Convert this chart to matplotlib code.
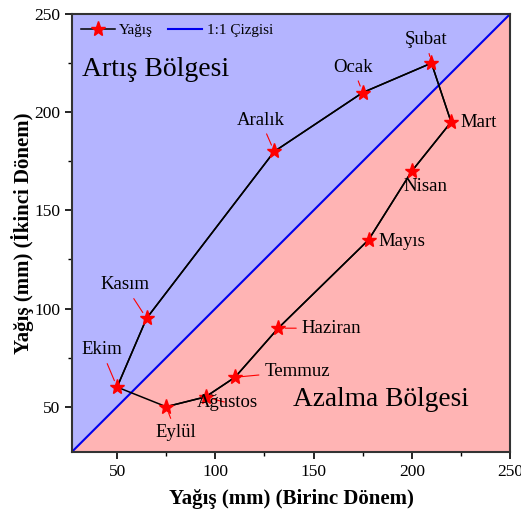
import matplotlib
matplotlib.use('Agg')
import matplotlib.pyplot as plt
import numpy as np

# Monthly precipitation (mm): first period vs second period
months = ['Ekim', 'Kasım', 'Aralık', 'Ocak', 'Şubat', 'Mart',
          'Nisan', 'Mayıs', 'Haziran', 'Temmuz', 'Ağustos', 'Eylül']
first_period = [50, 65, 130, 175, 210, 220, 200, 178, 132, 110, 95, 75]
second_period = [60, 95, 180, 210, 225, 195, 170, 135, 90, 65, 55, 50]

# label positions (data coords) and alignment
label_pos = [(42, 79), (54, 112), (123, 196), (170, 223), (207, 237), (225, 195),
             (207, 162), (183, 134), (144, 90), (125, 68), (106, 52), (80, 37)]
label_ha = ['center', 'center', 'center', 'center', 'center', 'left',
            'center', 'left', 'left', 'left', 'center', 'center']

lim = (27, 250)

plt.rcParams['font.family'] = ['Liberation Serif', 'DejaVu Serif']
fig = plt.figure(figsize=(5.21, 5.20), dpi=100)
ax = fig.add_axes([0.138, 0.131, 0.841, 0.842])

# regions above / below the 1:1 line
ax.fill([lim[0], lim[0], lim[1]], [lim[0], lim[1], lim[1]], color='#b4b4ff', zorder=0)
ax.fill([lim[0], lim[1], lim[1]], [lim[0], lim[0], lim[1]], color='#ffb4b4', zorder=0)

ax.plot(lim, lim, color='#0000ee', lw=1.5, label='1:1 Çizgisi', zorder=2)

xs = first_period + first_period[:1]
ys = second_period + second_period[:1]
ax.plot(xs, ys, color='black', lw=1.1, zorder=3)
line, = ax.plot(first_period, second_period, color='black', lw=1.1, marker='*',
                markersize=11, markerfacecolor='red', markeredgecolor='red',
                zorder=4, label='Yağış')

for name, x, y, (tx, ty), ha in zip(months, first_period, second_period, label_pos, label_ha):
    ax.annotate(name, xy=(x, y), xytext=(tx, ty), ha=ha, va='center', fontsize=13.5,
                arrowprops=dict(arrowstyle='-', color='red', lw=0.8,
                                shrinkA=2, shrinkB=5), zorder=5)

ax.text(32, 222, 'Artış Bölgesi', fontsize=20, va='center')
ax.text(229, 53.5, 'Azalma Bölgesi', fontsize=19.7, va='center', ha='right')

ax.set_xlim(lim)
ax.set_ylim(lim)
ax.set_xticks([50, 100, 150, 200, 250])
ax.set_yticks([50, 100, 150, 200, 250])
ax.set_xticks([75, 125, 175, 225], minor=True)
ax.set_yticks([75, 125, 175, 225], minor=True)
ax.tick_params(which='major', direction='out', length=5, width=1.2, labelsize=12.5)
ax.tick_params(which='minor', direction='out', length=3, width=1.0)
for s in ax.spines.values():
    s.set_linewidth(1.5)
    s.set_color('#333333')

ax.set_xlabel('Yağış (mm) (Birinc Dönem)', fontsize=15, fontweight='bold', labelpad=7)
ax.set_ylabel('Yağış (mm) (İkinci Dönem)', fontsize=15, fontweight='bold', labelpad=0)

ax.legend(handles=[line, ax.lines[0]], loc='upper left', ncol=2, frameon=False,
          fontsize=11, handlelength=2.2, columnspacing=1.0, borderaxespad=0.2,
          handletextpad=0.3)

fig.savefig('out.png', dpi=100)
